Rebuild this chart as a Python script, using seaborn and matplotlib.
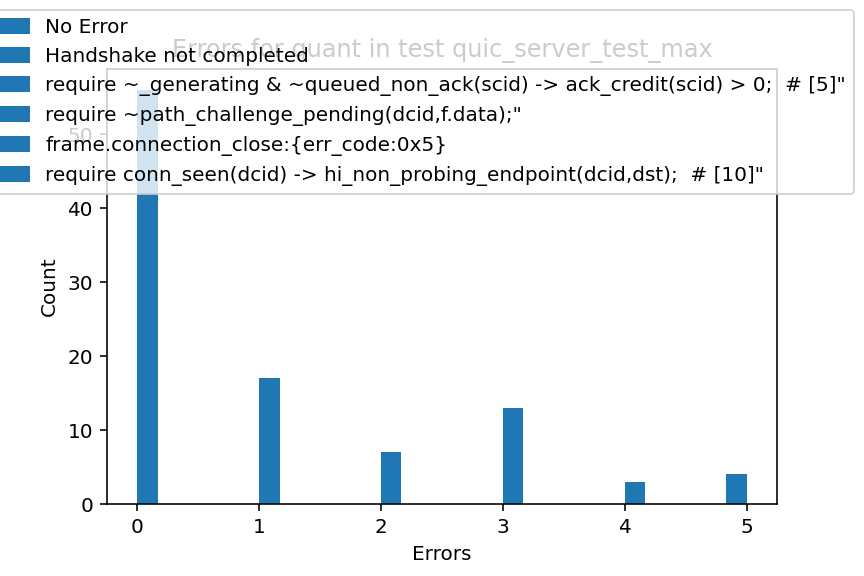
import matplotlib
matplotlib.use('Agg')
import matplotlib.pyplot as plt
import matplotlib.patches as mpatches
import seaborn as sns

# error index -> number of runs
error_codes = [0, 1, 2, 3, 4, 5]
error_counts = [56, 17, 7, 13, 3, 4]

error_labels = [
    'No Error',
    'Handshake not completed',
    'require ~_generating & ~queued_non_ack(scid) -> ack_credit(scid) > 0;  # [5]"',
    'require ~path_challenge_pending(dcid,f.data);"',
    'frame.connection_close:{err_code:0x5}',
    'require conn_seen(dcid) -> hi_non_probing_endpoint(dcid,dst);  # [10]"',
]

title = 'Errors for quant in test quic_server_test_max'
bar_color = '#1f77b4'


def main():
    plt.rcParams['font.family'] = ['DejaVu Sans']
    fig = plt.figure(figsize=(6, 4), dpi=144)
    ax = fig.add_axes([107 / 864, 72 / 576, 670 / 864, 435 / 576])

    sns.histplot(x=error_codes, weights=error_counts, bins=30, binrange=(0, 5),
                 color=bar_color, alpha=1, edgecolor='none', linewidth=0, ax=ax)

    ax.set_title(title, fontsize=12)
    ax.set_xlabel('Errors')
    ax.set_ylabel('Count')

    # legend sits over the title and the tall bar, partly off the left edge
    handles = [mpatches.Patch(color=bar_color) for _ in error_labels]
    ax.legend(handles, error_labels, loc='upper right', borderaxespad=0,
              bbox_to_anchor=(854 / 864, 1 - 10 / 576),
              bbox_transform=fig.transFigure)

    fig.savefig('out.png', dpi=144)


if __name__ == '__main__':
    main()
